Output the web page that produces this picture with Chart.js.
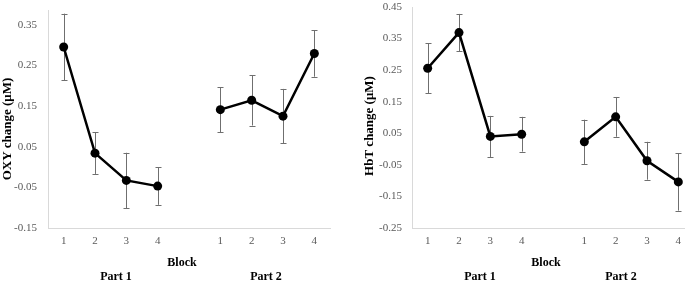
<!DOCTYPE html>
<html>
<head>
<meta charset="utf-8">
<script src="https://cdn.jsdelivr.net/npm/chart.js@4/dist/chart.umd.min.js"></script>
<style>
  html, body { margin: 0; padding: 0; background: #fff; overflow: hidden; }
  #wrap { position: relative; width: 685px; height: 283px; overflow: hidden; }
  .panel { position: absolute; top: 0; height: 283px; }
</style>
</head>
<body>
<div id="wrap">
  <div class="panel" style="left:0;width:340px"><canvas id="oxy" width="340" height="283"></canvas></div>
  <div class="panel" style="left:340px;width:360px"><canvas id="hbt" width="360" height="283"></canvas></div>
</div>
<script>
// blocks of part 1, an empty slot, then blocks of part 2
const blocks = ['1', '2', '3', '4', '', '1', '2', '3', '4'];

const oxyMean = [0.295, 0.034, -0.033, -0.047, null, 0.141, 0.164, 0.125, 0.279];
const oxyErr  = [0.082, 0.051, 0.068, 0.046, null, 0.055, 0.062, 0.067, 0.057];

const hbtMean = [0.256, 0.369, 0.040, 0.047, null, 0.023, 0.102, -0.037, -0.104];
const hbtErr  = [0.079, 0.059, 0.065, 0.055, null, 0.070, 0.063, 0.060, 0.091];

const oxyTicks = [-0.15, -0.05, 0.05, 0.15, 0.25, 0.35];
const hbtTicks = [-0.25, -0.15, -0.05, 0.05, 0.15, 0.25, 0.35, 0.45];

const serif = "'Liberation Serif', 'Times New Roman', serif";
const tickGrey = '#595959';
const axisGrey = '#d9d9d9';

// error bars drawn under the line, from the dataset's own scales
const errorBars = {
  id: 'errorBars',
  beforeDatasetsDraw(chart, args, opts) {
    const ctx = chart.ctx;
    const x = chart.scales.x, y = chart.scales.y;
    const means = chart.data.datasets[0].data;
    ctx.save();
    ctx.strokeStyle = opts.color;
    ctx.lineWidth = 1;
    means.forEach((m, i) => {
      if (m === null) return;
      const e = opts.err[i];
      const px = Math.round(x.getPixelForValue(i)) + 0.5;
      const top = y.getPixelForValue(m + e);
      const bot = y.getPixelForValue(m - e);
      ctx.beginPath();
      ctx.moveTo(px, top); ctx.lineTo(px, bot);
      ctx.moveTo(px - 3, Math.round(top) + 0.5); ctx.lineTo(px + 3, Math.round(top) + 0.5);
      ctx.moveTo(px - 3, Math.round(bot) + 0.5); ctx.lineTo(px + 3, Math.round(bot) + 0.5);
      ctx.stroke();
    });
    ctx.restore();
  }
};

// axis titles and part labels
const panelText = {
  id: 'panelText',
  afterDraw(chart, args, opts) {
    const ctx = chart.ctx;
    const area = chart.chartArea;
    ctx.save();
    ctx.fillStyle = '#000';
    ctx.font = 'bold 12px ' + serif;
    ctx.textAlign = 'center';
    ctx.textBaseline = 'middle';
    ctx.fillText('Block', area.left + 134, 263);
    ctx.fillText('Part 1', area.left + 68, 277);
    ctx.fillText('Part 2', area.left + opts.part2, 277);
    ctx.translate(opts.titleX, opts.titleY);
    ctx.rotate(-Math.PI / 2);
    ctx.font = 'bold 13px ' + serif;
    ctx.fillText(opts.title, 0, 0);
    ctx.restore();
  }
};

function makeChart(id, mean, err, ticks, o) {
  return new Chart(document.getElementById(id), {
    type: 'line',
    data: {
      labels: blocks,
      datasets: [{
        data: mean,
        borderColor: '#000',
        borderWidth: 2.5,
        backgroundColor: '#000',
        pointBackgroundColor: '#000',
        pointBorderColor: '#000',
        pointRadius: 4.5,
        pointBorderWidth: 0,
        spanGaps: false,
        tension: 0
      }]
    },
    plugins: [errorBars, panelText],
    options: {
      responsive: false,
      animation: false,
      devicePixelRatio: 1,
      layout: { padding: { left: 0, right: o.padRight, top: o.padTop, bottom: 0 } },
      scales: {
        x: {
          type: 'category',
          offset: true,
          grid: { display: false, drawTicks: false },
          border: { display: true, color: axisGrey, width: 1 },
          ticks: { color: tickGrey, font: { family: serif, size: 11 }, padding: 7, autoSkip: false, maxRotation: 0 },
          afterFit(scale) {
            scale.height = 55;
            scale.paddingLeft = 0;
            scale.paddingRight = 0;
          }
        },
        y: {
          min: ticks[0],
          max: o.max,
          grid: { display: false, drawTicks: false },
          border: { display: true, color: axisGrey, width: 1 },
          ticks: {
            color: tickGrey,
            font: { family: serif, size: 11 },
            padding: o.tickPad,
            callback: v => v.toFixed(2)
          },
          afterBuildTicks(scale) { scale.ticks = ticks.map(v => ({ value: v })); },
          afterFit(scale) {
            scale.width = o.axisLeft;
            scale.paddingTop = 0;
            scale.paddingBottom = 0;
          }
        }
      },
      plugins: {
        legend: { display: false },
        tooltip: { enabled: false },
        errorBars: { err: err, color: '#6f6f6f' },
        panelText: { title: o.title, titleX: o.titleX, titleY: o.titleY, part2: o.part2 }
      }
    }
  });
}

makeChart('oxy', oxyMean, oxyErr, oxyTicks, {
  max: 0.386, padTop: 10, padRight: 10, axisLeft: 48, tickPad: 11,
  title: 'OXY change (\u03bcM)', titleX: 8, titleY: 129, part2: 218
});
makeChart('hbt', hbtMean, hbtErr, hbtTicks, {
  max: 0.45, padTop: 7, padRight: 6, axisLeft: 72, tickPad: 10,
  title: 'HbT change (\u03bcM)', titleX: 30, titleY: 126, part2: 209
});
</script>
</body>
</html>
